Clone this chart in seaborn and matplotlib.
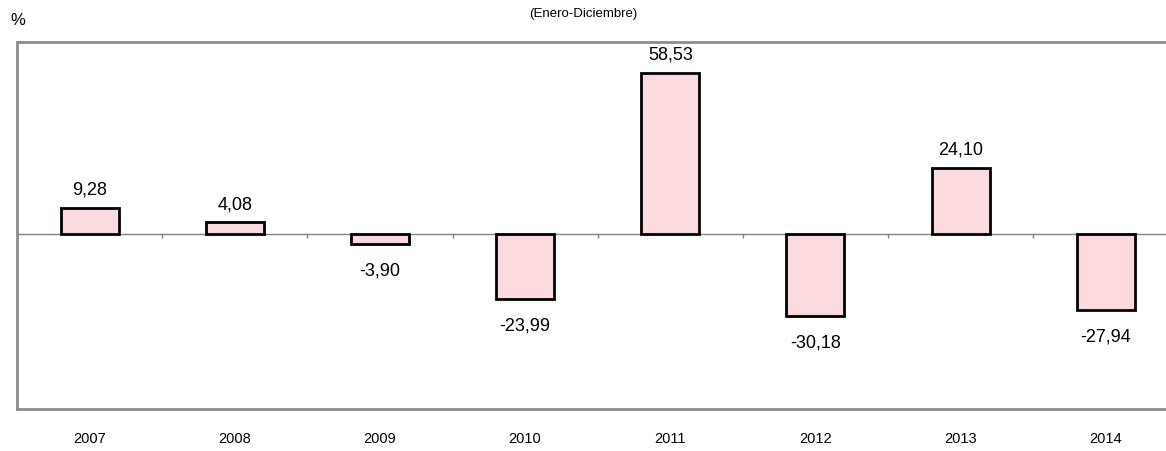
import numpy as np
import pandas as pd
import matplotlib
matplotlib.use("Agg")
import matplotlib.pyplot as plt
import seaborn as sns

# Datos del gráfico
anios = ["2007", "2008", "2009", "2010", "2011", "2012", "2013", "2014"]
variacion = [9.28, 4.08, -3.90, -23.99, 58.53, -30.18, 24.10, -27.94]

df = pd.DataFrame({"anio": anios, "variacion": variacion})

sns.set_style("white")
plt.rcParams['font.family'] = ['Liberation Sans', 'DejaVu Sans']
plt.rcParams['text.color'] = 'black'
plt.rcParams['xtick.color'] = 'black'
narrow = ['Liberation Sans Narrow', 'Liberation Sans', 'DejaVu Sans']

fig = plt.figure(figsize=(11.66, 4.52), dpi=100)
ax = fig.add_axes([0.0146, 0.093, 0.996, 0.812])

sns.barplot(data=df, x="anio", y="variacion", color="#fadadd",
            edgecolor="black", linewidth=2, width=0.4, saturation=1, ax=ax)

ax.set_xlim(-0.5, 7.5)
ax.set_ylim(-64, 70)

# linea del cero con marcas entre categorias
ax.axhline(0, color="#808080", lw=1, zorder=0)
ax.vlines(np.arange(0.5, len(anios) - 0.5), -1.4, 0, color="#808080", lw=1, zorder=0)

for s in ax.spines.values():
    s.set_color("#8c8c8c")
    s.set_linewidth(2)

ax.set_yticks([])
ax.tick_params(axis="x", length=0, pad=16)
for lab in ax.get_xticklabels():
    lab.set_family(narrow)
    lab.set_fontsize(10.5)
    lab.set_color("black")
ax.set_xlabel("")
ax.set_ylabel("")

# etiquetas de valores con coma decimal
bars = ax.containers[0]
for rect, v in zip(bars, variacion):
    txt = f"{v:.2f}".replace(".", ",")
    if v >= 0:
        ax.annotate(txt, (rect.get_x() + rect.get_width() / 2, v),
                    xytext=(0, 7.5), textcoords="offset points",
                    ha="center", va="bottom", fontsize=13, color="black")
    else:
        ax.annotate(txt, (rect.get_x() + rect.get_width() / 2, v),
                    xytext=(0, -12.5), textcoords="offset points",
                    ha="center", va="top", fontsize=13, color="black")

fig.text(0.5, 0.969, "(Enero-Diciembre)", ha="center", va="center",
         fontsize=9.5, family=narrow, color="black")
fig.text(0.0086, 0.955, "%", ha="left", va="center", fontsize=12, color="black")

fig.savefig("out.png", dpi=100)
